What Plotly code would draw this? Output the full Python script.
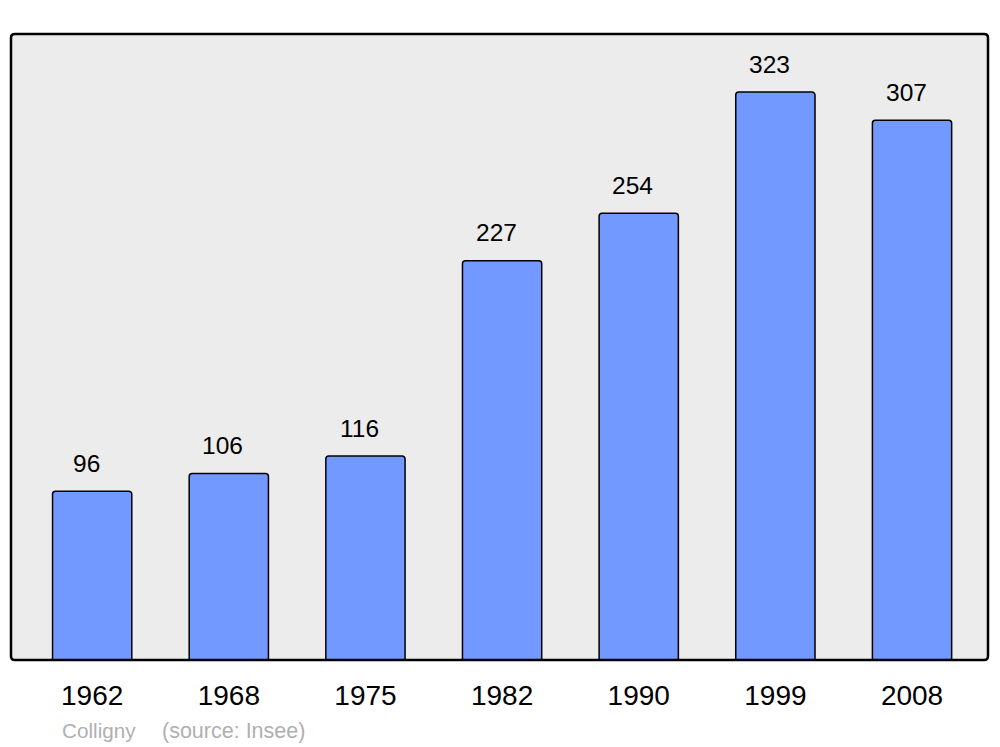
import plotly.graph_objects as go

years = ["1962", "1968", "1975", "1982", "1990", "1999", "2008"]
population = [96, 106, 116, 227, 254, 323, 307]
commune = "Colligny"
source = "(source: Insee)"

positions = list(range(len(years)))
FONT = "Liberation Sans, Arial, sans-serif"

fig = go.Figure()
fig.add_trace(go.Bar(
    x=positions, y=population, width=0.58,
    marker=dict(color="#7199ff", line=dict(color="#000000", width=1.5), cornerradius=3),
    hoverinfo="skip",
))

for xi, v in zip(positions, population):
    fig.add_annotation(x=xi, y=v, text=str(v), showarrow=False, yshift=28, xshift=-6,
                       font=dict(size=24.5, color="#000000", family=FONT))

fig.add_annotation(xref="paper", yref="paper", x=0.0505, y=-0.1134, xanchor="left", yanchor="middle",
                   text=commune, showarrow=False,
                   font=dict(size=20.7, color="#b0b0b0", family=FONT))
fig.add_annotation(xref="paper", yref="paper", x=0.1525, y=-0.1134, xanchor="left", yanchor="middle",
                   text=source, showarrow=False,
                   font=dict(size=21.5, color="#b0b0b0", family=FONT))

# rounded frame around plot area
fig.add_shape(type="path", xref="paper", yref="paper",
              path=("M 0.004,0 L 0.996,0 Q 1,0 1,0.006 L 1,0.994 Q 1,1 0.996,1 "
                    "L 0.004,1 Q 0,1 0,0.994 L 0,0.006 Q 0,0 0.004,0 Z"),
              line=dict(color="#000000", width=2.5), fillcolor="rgba(0,0,0,0)", layer="above")

fig.update_layout(
    width=992, height=739,
    margin=dict(l=3, r=12, t=26, b=87),
    paper_bgcolor="#ffffff", plot_bgcolor="#ececec",
    showlegend=False,
    font=dict(family=FONT),
    xaxis=dict(range=[-0.594, 6.556], tickmode="array", tickvals=positions, ticktext=years,
               showgrid=False, zeroline=False, showline=False,
               ticks="outside", ticklen=10, tickcolor="rgba(0,0,0,0)",
               tickfont=dict(size=28, color="#000000")),
    yaxis=dict(range=[0, 356], showgrid=False, zeroline=False, showline=False,
               showticklabels=False, ticks=""),
)

fig.write_html("out.html")
